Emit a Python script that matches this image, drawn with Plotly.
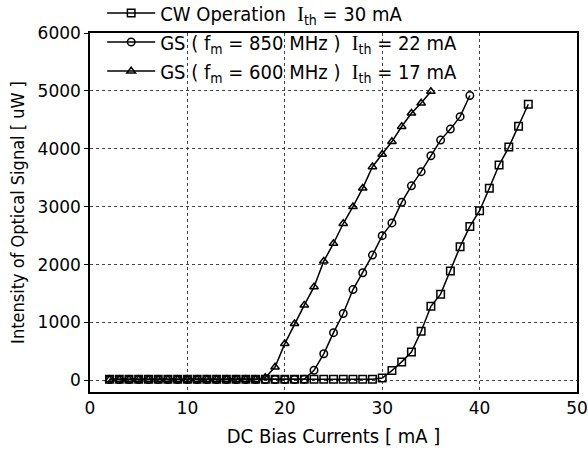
import plotly.graph_objects as go

# DC bias current sweep (mA)
current_cw = list(range(2, 46))
current_850 = list(range(2, 40))
current_600 = list(range(2, 36))

# Optical output (uW) – CW operation, threshold 30 mA
power_cw = [20] * 28 + [40,
            170, 320, 490, 850, 1280, 1490, 1890, 2310, 2660, 2930,
            3320, 3720, 4030, 4390, 4770]

# Gain-switched, fm = 850 MHz, threshold 22 mA
power_850 = [15] * 20 + [20,
             175, 460, 825, 1155, 1570, 1860, 2165, 2500, 2720, 3075,
             3360, 3605, 3880, 4150, 4340, 4555, 4920]

# Gain-switched, fm = 600 MHz, threshold 17 mA
power_600 = [15] * 16 + [50,
             230, 635, 980, 1300, 1615, 2060, 2365, 2710, 3000, 3320,
             3690, 3905, 4125, 4385, 4615, 4790, 4990]

serif_I = '<span style="font-family:Liberation Serif;fill:black">I</span>'
names = [
    f"CW Operation&nbsp;&nbsp;{serif_I}<sub>th</sub> = 30 mA",
    f"GS ( f<sub>m</sub> = 850 MHz )&nbsp;&nbsp;{serif_I}<sub>th</sub> = 22 mA",
    f"GS ( f<sub>m</sub> = 600 MHz )&nbsp;&nbsp;{serif_I}<sub>th</sub> = 17 mA",
]
symbols = ["square-open", "circle-open", "triangle-up-open"]
xs = [current_cw, current_850, current_600]
ys = [power_cw, power_850, power_600]

fig = go.Figure()
for x, y, name, sym in zip(xs, ys, names, symbols):
    fig.add_trace(go.Scatter(
        x=x, y=y, name=name, mode="lines+markers",
        line=dict(color="black", width=1.5),
        marker=dict(symbol=sym, size=7.5, color="black",
                    line=dict(width=1.5, color="black")),
    ))

title_font = "DejaVu Sans Condensed, DejaVu Sans"
fig.update_layout(
    width=588, height=452,
    margin=dict(l=90, r=11, t=33, b=60, autoexpand=False),
    paper_bgcolor="white", plot_bgcolor="white",
    font=dict(family="DejaVu Sans", size=16, color="black"),
    showlegend=True,
    legend=dict(x=0.025, y=1.11, xanchor="left", yanchor="top",
                bgcolor="rgba(0,0,0,0)", borderwidth=0,
                font=dict(family=title_font, size=20), itemwidth=48,
                tracegroupgap=0),
)
fig.update_xaxes(
    range=[0, 50], dtick=10, tick0=0,
    title=dict(text="DC Bias Currents [ mA ]",
               font=dict(family=title_font, size=20), standoff=12),
    tickfont=dict(size=17),
    showline=True, linecolor="black", linewidth=1.5, mirror=True,
    showgrid=True, gridcolor="#444", griddash="dot", gridwidth=1,
    zeroline=False, ticks="",
)
fig.update_yaxes(
    range=[-200, 6000], dtick=1000, tick0=0,
    title=dict(text="Intensity of Optical Signal [ uW ]",
               font=dict(family=title_font, size=18), standoff=8),
    tickfont=dict(size=17),
    showline=True, linecolor="black", linewidth=1.5, mirror=True,
    showgrid=True, gridcolor="#444", griddash="dot", gridwidth=1,
    zeroline=False, ticks="outside", ticklen=4, tickcolor="black",
)

fig.write_html("out.html")
